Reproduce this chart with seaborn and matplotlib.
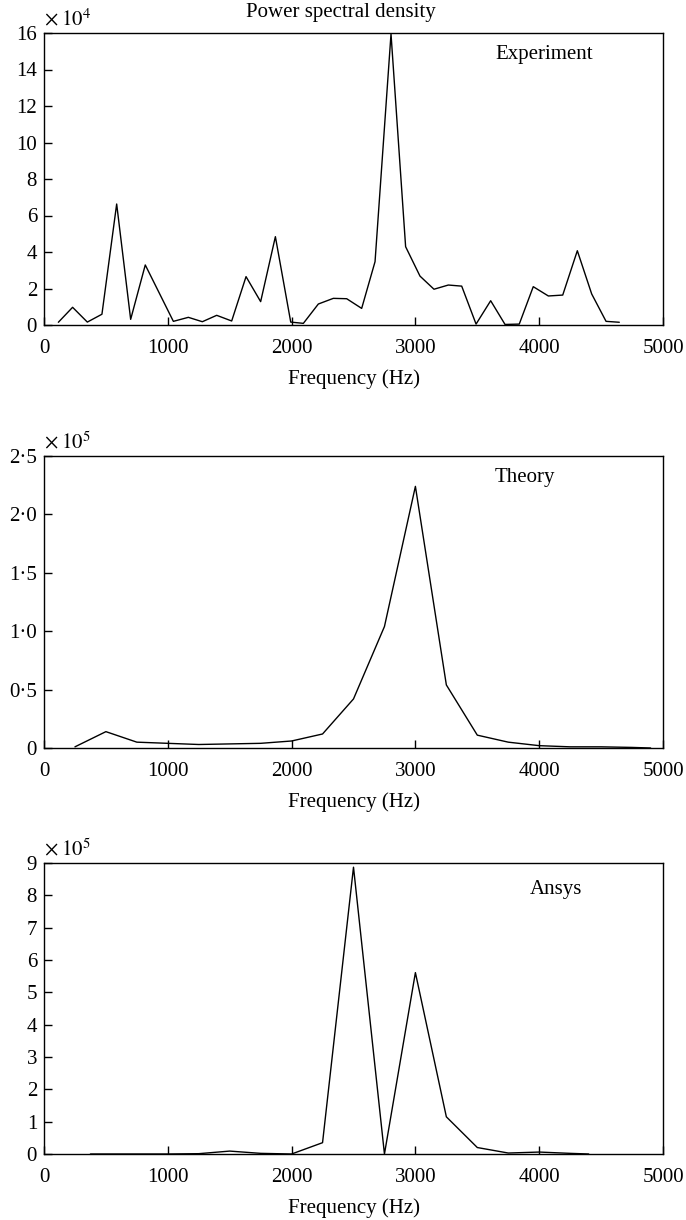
import matplotlib
matplotlib.use("Agg")
import matplotlib.pyplot as plt
import seaborn as sns
import pandas as pd

# ---- data ----
exp_freq = [116, 231, 350, 468, 587, 700, 818, 1045, 1166, 1279, 1395, 1516, 1632, 1750,
            1869, 1993, 2095, 2216, 2337, 2445, 2566, 2674, 2803, 2921, 3037, 3150, 3266,
            3374, 3490, 3608, 3724, 3839, 3952, 4074, 4190, 4308, 4424, 4540, 4647]
exp_psd = [0.15, 0.97, 0.16, 0.59, 6.63, 0.31, 3.29, 0.2, 0.42, 0.18, 0.53, 0.22, 2.65, 1.28,
           4.84, 0.16, 0.09, 1.15, 1.46, 1.44, 0.91, 3.47, 15.95, 4.29, 2.68, 1.96, 2.19,
           2.13, 0.05, 1.33, 0.03, 0.05, 2.1, 1.59, 1.64, 4.07, 1.70, 0.2, 0.15]

theory_freq = [250, 500, 750, 1000, 1250, 1500, 1750, 2000, 2250, 2500, 2750, 3000, 3250,
               3500, 3750, 4000, 4250, 4500, 4750, 4900]
theory_psd = [0.01, 0.14, 0.05, 0.04, 0.03, 0.035, 0.04, 0.06, 0.12, 0.42, 1.04, 2.24, 0.54,
              0.11, 0.05, 0.02, 0.01, 0.01, 0.005, 0.0]

ansys_freq = [375, 500, 750, 1000, 1250, 1500, 1750, 2000, 2250, 2500, 2750, 3000, 3250,
              3500, 3750, 4000, 4250, 4400]
ansys_psd = [0.0, 0.0, 0.0, 0.0, 0.01, 0.09, 0.02, 0.0, 0.35, 8.87, 0.0, 5.61, 1.15,
             0.2, 0.03, 0.06, 0.02, 0.0]

x_ticks = [0, 1000, 2000, 3000, 4000, 5000]
exp_yticks = [0, 2, 4, 6, 8, 10, 12, 14, 16]
theory_yticks = [0, 0.5, 1.0, 1.5, 2.0, 2.5]
theory_yticklabels = ["0", "0\u00b75", "1\u00b70", "1\u00b75", "2\u00b70", "2\u00b75"]
ansys_yticks = [0, 1, 2, 3, 4, 5, 6, 7, 8, 9]

sns.set_style("white")
plt.rcParams["font.family"] = ["Liberation Serif", "DejaVu Serif"]
plt.rcParams["mathtext.fontset"] = "stix"
plt.rcParams["font.size"] = 15
plt.rcParams["text.color"] = "black"
plt.rcParams["axes.labelcolor"] = "black"

fig = plt.figure(figsize=(6.86, 12.2), dpi=100)
W = 686.0
H = 1220.0
left = 44 / W
width = 619 / W
axes_px = [(33, 325), (456, 748), (863, 1154)]
axs = [fig.add_axes([left, 1 - b / H, width, (b - t) / H]) for t, b in axes_px]

panels = [
    (exp_freq, exp_psd, 16, exp_yticks, [str(v) for v in exp_yticks], "4", "Experiment", (0.808, 0.925)),
    (theory_freq, theory_psd, 2.5, theory_yticks, theory_yticklabels, "5", "Theory", (0.777, 0.925)),
    (ansys_freq, ansys_psd, 9, ansys_yticks, [str(v) for v in ansys_yticks], "5", "Ansys", (0.827, 0.91)),
]

for ax, (fx, fy, ymax, yt, ytl, expo, name, pos) in zip(axs, panels):
    df = pd.DataFrame({"Frequency": fx, "PSD": fy})
    sns.lineplot(data=df, x="Frequency", y="PSD", ax=ax, color="black", linewidth=1.0,
                 estimator=None, sort=False)
    ax.set_xlim(0, 5000)
    ax.set_ylim(0, ymax)
    ax.set_xticks(x_ticks)
    ax.set_xticklabels([str(v) for v in x_ticks])
    ax.set_yticks(yt)
    ax.set_yticklabels(ytl)
    ax.tick_params(bottom=True, left=True, top=False, right=False,
                   direction="in", length=6, width=1.0, colors="black", labelsize=15)
    ax.tick_params(axis="x", pad=10)
    ax.tick_params(axis="y", pad=5)
    for s in ax.spines.values():
        s.set_color("black")
        s.set_linewidth(1.0)
    ax.set_xlabel("Frequency (Hz)", fontsize=15, labelpad=8, color="black")
    ax.set_ylabel("")
    ax.text(0.0, 1.01, r"$\times\;10^{%s}$" % expo, transform=ax.transAxes,
            ha="left", va="bottom", fontsize=15, color="black")
    ax.text(pos[0], pos[1], name, transform=ax.transAxes, ha="center", va="center",
            fontsize=15, color="black")

fig.text(341 / W, 1 - 13 / H, "Power spectral density", ha="center", va="center",
         fontsize=15, color="black")

fig.savefig("out.png", dpi=100)
